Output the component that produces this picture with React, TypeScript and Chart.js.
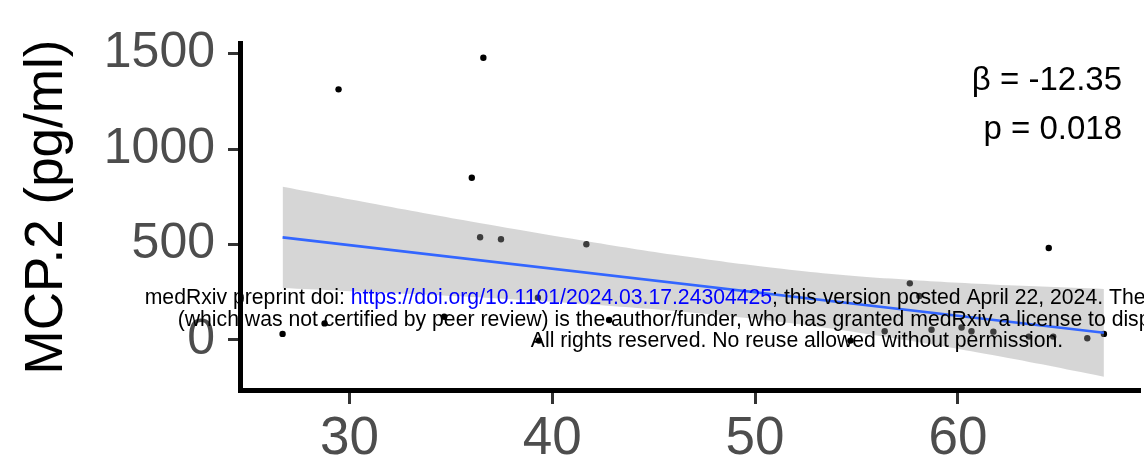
import React, { useEffect, useRef } from "react";
import { Chart, registerables } from "chart.js";

Chart.register(...registerables);

// Age (years) and MCP.2 (pg/ml) for each participant
const ageValues = [26.7, 28.77, 29.46, 34.67, 36.03, 36.44, 36.6, 37.47, 39.29, 39.34, 41.68, 42.8, 54.7, 56.39, 57.63, 58.1, 58.7, 60.18, 60.67, 61.75, 63.5, 64.48, 64.7, 66.38, 67.2];
const mcpValues = [31, 86, 1313, 121, 850, 538, 1479, 527, 221, -4, 501, 104, -4, 45, 296, 230, 53, 65, 45, 43, 17, 481, 17, 8, 31];

// Fitted regression line (end points)
const fitX = [26.7, 67.2];
const fitY = [537, 37];

// 95% confidence band
const bandX = [26.7, 31.7, 36.7, 41.7, 46.7, 51.7, 56.7, 61.7, 67.2];
const bandUpper = [802, 703, 607, 517, 435, 368, 321, 290, 267];
const bandLower = [272, 247, 221, 187, 145, 88, 11, -80, -193];

const xTicks = [30, 40, 50, 60];
const yTicks = [0, 500, 1000, 1500];

const yTitle = "MCP.2 (pg/ml)";
const statLines = ["β = -12.35", "p = 0.018"];

const wmLine1a = "medRxiv preprint doi: ";
const wmLink = "https://doi.org/10.1101/2024.03.17.24304425";
const wmLine1b = "; this version posted April 22, 2024. The copyright holder for this preprint";
const wmLine2 = "(which was not certified by peer review) is the author/funder, who has granted medRxiv a license to display the preprint in perpetuity.";
const wmLine3 = "All rights reserved. No reuse allowed without permission.";

const FONT = "'Liberation Sans', Arial, Helvetica, sans-serif";

export default function App() {
  const ref = useRef<HTMLCanvasElement | null>(null);

  useEffect(() => {
    document.body.style.margin = "0";
    const canvas = ref.current!;

    const overlay = {
      id: "overlay",
      afterDraw(chart: any) {
        const ctx = chart.ctx as CanvasRenderingContext2D;
        ctx.save();
        // y axis title
        ctx.save();
        ctx.translate(47, 207);
        ctx.rotate(-Math.PI / 2);
        ctx.fillStyle = "#000";
        ctx.font = `53px ${FONT}`;
        ctx.textAlign = "center";
        ctx.textBaseline = "middle";
        ctx.fillText(yTitle, 0, 0);
        ctx.restore();

        // statistics annotation
        ctx.fillStyle = "#000";
        ctx.font = `33px ${FONT}`;
        ctx.textAlign = "right";
        ctx.textBaseline = "alphabetic";
        ctx.fillText(statLines[0], 1122, 90);
        ctx.fillText(statLines[1], 1122, 139);

        // watermark
        const cx = 797;
        ctx.font = `21.2px ${FONT}`;
        ctx.textBaseline = "middle";
        const wa = ctx.measureText(wmLine1a).width;
        const wl = ctx.measureText(wmLink).width;
        const wb = ctx.measureText(wmLine1b).width;
        const x0 = cx - (wa + wl + wb) / 2;
        ctx.textAlign = "left";
        ctx.fillStyle = "#000";
        ctx.fillText(wmLine1a, x0, 298);
        ctx.fillStyle = "#0000FF";
        ctx.fillText(wmLink, x0 + wa, 298);
        ctx.fillStyle = "#000";
        ctx.fillText(wmLine1b, x0 + wa + wl, 298);
        ctx.textAlign = "center";
        ctx.fillText(wmLine2, cx, 320);
        ctx.fillText(wmLine3, cx, 341);
        ctx.restore();
      },
    };

    const chart = new Chart(canvas, {
      type: "scatter",
      data: {
        datasets: [
          {
            type: "line",
            data: fitX.map((x, i) => ({ x, y: fitY[i] })),
            borderColor: "#3366FF",
            borderWidth: 2.6,
            pointRadius: 0,
            fill: false,
          } as any,
          {
            type: "line",
            data: bandX.map((x, i) => ({ x, y: bandUpper[i] })),
            borderWidth: 0,
            borderColor: "rgba(0,0,0,0)",
            backgroundColor: "rgba(153,153,153,0.4)",
            pointRadius: 0,
            fill: "+1",
            tension: 0.4,
          } as any,
          {
            type: "line",
            data: bandX.map((x, i) => ({ x, y: bandLower[i] })),
            borderWidth: 0,
            borderColor: "rgba(0,0,0,0)",
            pointRadius: 0,
            fill: false,
            tension: 0.4,
          } as any,
          {
            type: "scatter",
            data: ageValues.map((x, i) => ({ x, y: mcpValues[i] })),
            pointRadius: 3.2,
            pointBackgroundColor: "#000",
            pointBorderWidth: 0,
            borderColor: "#000",
          } as any,
        ],
      },
      options: {
        responsive: false,
        animation: false,
        events: [],
        layout: { padding: { top: 40, right: 0, bottom: 0, left: 0 } },
        plugins: {
          legend: { display: false },
          tooltip: { enabled: false },
        },
        scales: {
          x: {
            type: "linear",
            min: 24.6,
            max: 68.98,
            afterBuildTicks: (s: any) => {
              s.ticks = xTicks.map((v) => ({ value: v }));
            },
            afterFit: (s: any) => {
              s.height = 85;
            },
            border: { display: true, color: "#000", width: 5 },
            grid: {
              display: true,
              drawOnChartArea: false,
              drawTicks: true,
              tickLength: 14,
              tickWidth: 3,
              tickColor: "#333333",
            },
            ticks: {
              color: "#4D4D4D",
              font: { family: FONT, size: 53 },
              padding: 4,
              maxRotation: 0,
              autoSkip: false,
              callback: (v: any) => String(v),
            },
          },
          y: {
            type: "linear",
            min: -263,
            max: 1556,
            afterBuildTicks: (s: any) => {
              s.ticks = yTicks.map((v) => ({ value: v }));
            },
            afterFit: (s: any) => {
              s.width = 240;
            },
            border: { display: true, color: "#000", width: 5 },
            grid: {
              display: true,
              drawOnChartArea: false,
              drawTicks: true,
              tickLength: 12,
              tickWidth: 3,
              tickColor: "#333333",
            },
            ticks: {
              color: "#4D4D4D",
              font: { family: FONT, size: 50 },
              padding: 13,
              autoSkip: false,
              callback: (v: any) => String(v),
            },
          },
        },
      },
      plugins: [overlay],
    });

    return () => chart.destroy();
  }, []);

  return (
    <div style={{ position: "absolute", left: 0, top: 0, width: 1144, height: 475, background: "#fff" }}>
      <canvas ref={ref} width={1144} height={475} style={{ width: 1144, height: 475 }} />
    </div>
  );
}
